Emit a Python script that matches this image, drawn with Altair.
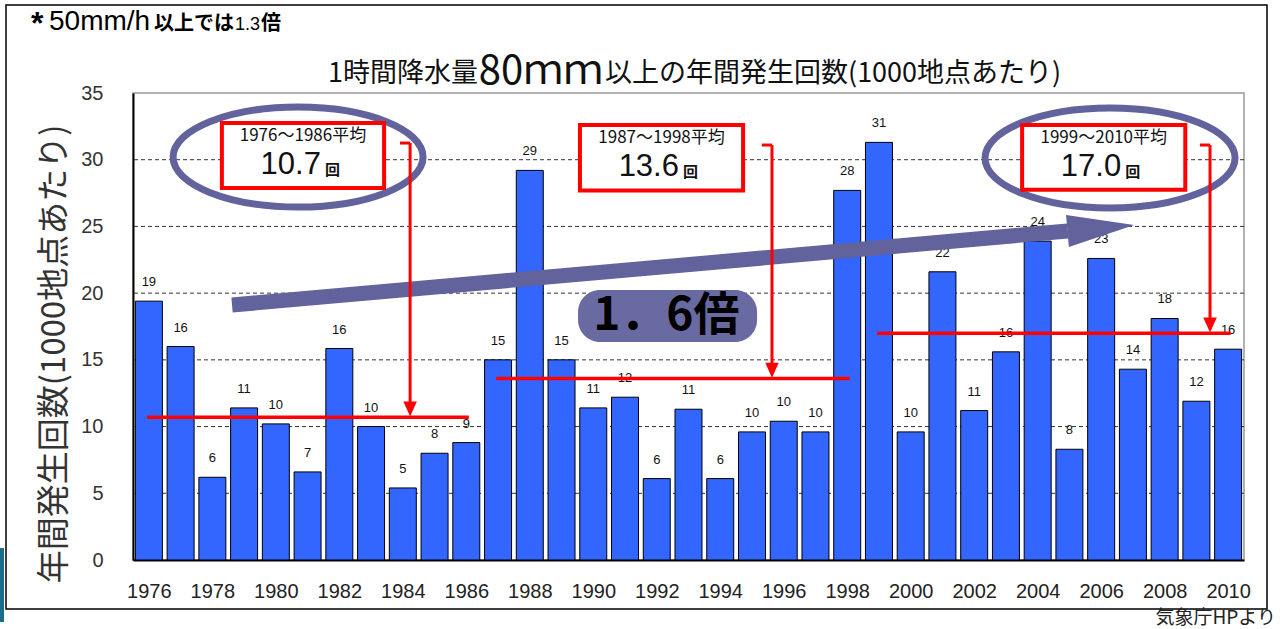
import altair as alt
import pandas as pd

# ---------------- data ----------------
years = list(range(1976, 2011))
counts = [19.4, 16.0, 6.2, 11.4, 10.2, 6.6, 15.85, 10.0, 5.4, 8.0, 8.8,
          15.0, 29.2, 15.0, 11.4, 12.2, 6.1, 11.3, 6.1, 9.6, 10.4, 9.6, 27.7,
          31.3, 9.6, 21.6, 11.2, 15.6, 23.9, 8.3, 22.6, 14.3, 18.1, 11.9, 15.8]
count_labels = ["19", "16", "6", "11", "10", "7", "16", "10", "5", "8", "9",
                "15", "29", "15", "11", "12", "6", "11", "6", "10", "10", "10", "28",
                "31", "10", "22", "11", "16", "24", "8", "23", "14", "18", "12", "16"]

period_names = ["1976～1986平均", "1987～1998平均", "1999～2010平均"]
period_means = [10.7, 13.6, 17.0]
period_mean_text = ["10.7", "13.6", "17.0"]
period_first = [1976, 1987, 1999]
period_last = [1986, 1998, 2010]

y_ticks = [0, 5, 10, 15, 20, 25, 30, 35]
grid_values = [5, 10, 15, 20, 25, 30]
x_ticks = list(range(1976, 2011, 2))

# ---------------- annotation layout (data coordinates) ----------------
box_left = [1978.30, 1989.58, 2003.51]
box_right = [1983.41, 1994.72, 2008.65]
box_top = [32.75, 32.6, 32.6]
box_bottom = [27.88, 27.7, 27.75]
drop_x = [1984.23, 1995.63, 2009.43]
drop_top = [31.25, 31.1, 31.1]
ellipse_x = [1980.70, 2006.28]
ellipse_y = [30.2, 30.13]

W, H = 1111, 467
xs = alt.Scale(domain=[1975.5, 2010.5], nice=False, zero=False)
ys = alt.Scale(domain=[0, 35], nice=False, zero=True)

RED = "#ff0000"
SLATE = "#62629c"
JP = "Noto Sans CJK JP"
LAT = "Liberation Sans"

x_axis = alt.Axis(values=x_ticks, format="d", ticks=False, grid=False,
                  domainColor="#000", domainWidth=2, labelFont=LAT,
                  labelFontSize=20, labelColor="#222", labelPadding=21,
                  labelFlush=False)
y_axis = alt.Axis(values=y_ticks, ticks=False, grid=False,
                  domainColor="#000", domainWidth=2, labelFont=LAT,
                  labelFontSize=20, labelColor="#333", labelPadding=30)


def X(field):
    return alt.X(field, scale=xs, axis=x_axis, title=None)


def Y(field):
    return alt.Y(field, scale=ys, axis=y_axis, title=None)


one = pd.DataFrame({"a": [0]})

bars_df = pd.DataFrame({"year": years, "count": counts, "label": count_labels})
per_df = pd.DataFrame({
    "name": period_names, "mean": period_means, "mtext": period_mean_text,
    "first": period_first, "last": period_last,
    "bl": box_left, "br": box_right, "bt": box_top, "bb": box_bottom,
    "dx": drop_x, "dt": drop_top,
})

frame = alt.Chart(one).mark_rect(fillOpacity=0, stroke="#000", strokeWidth=1.5).encode(
    x=alt.value(-127), x2=alt.value(1134), y=alt.value(-88), y2=alt.value(516))
teal = alt.Chart(one).mark_rect(color="#1b6e89").encode(
    x=alt.value(-133), x2=alt.value(-129), y=alt.value(455), y2=alt.value(529))

grid = alt.Chart(pd.DataFrame({"v": grid_values})).mark_rule(
    color="#333", strokeDash=[4, 3], strokeWidth=1).encode(y=Y("v:Q"))

bars = alt.Chart(bars_df).transform_calculate(
    x0="datum.year - 0.425", x1="datum.year + 0.425").mark_bar(
    color="#3366ff", stroke="#000", strokeWidth=1).encode(
    x=X("x0:Q"), x2="x1:Q", y=Y("count:Q"), y2=alt.datum(0))

labels = alt.Chart(bars_df).mark_text(
    dy=-19, fontSize=13, font=LAT, color="#111", baseline="middle").encode(
    x=X("year:Q"), y=Y("count:Q"), text="label:N")

ellipse_path = "M -1,0 A 1,0.4 0 1,1 1,0 A 1,0.4 0 1,1 -1,0 Z"
ellipses = alt.Chart(pd.DataFrame({"x": ellipse_x, "y": ellipse_y})).mark_point(
    shape=ellipse_path, size=62500, filled=False, color=SLATE, strokeWidth=7,
    opacity=1).encode(x=X("x:Q"), y=Y("y:Q"))

shaft = alt.Chart(pd.DataFrame({"x": [1978.62], "x2": [2004.95], "y": [19.11], "y2": [24.66]})).mark_rule(
    color=SLATE, strokeWidth=15, strokeCap="butt").encode(
    x=X("x:Q"), x2="x2:Q", y=Y("y:Q"), y2="y2:Q")
head = alt.Chart(pd.DataFrame({"x": [2005.99], "y": [24.88]})).mark_point(
    shape="M -1,-0.48 L 1,0 L -1,0.48 Z", size=4489, angle=355, filled=True,
    color=SLATE, opacity=1).encode(x=X("x:Q"), y=Y("y:Q"))

ratio_box = alt.Chart(pd.DataFrame({"x": [1989.52], "x2": [1995.16], "y": [20.24], "y2": [16.34]})).mark_rect(
    color="#6a6aa3", cornerRadius=22).encode(
    x=X("x:Q"), x2="x2:Q", y=Y("y:Q"), y2="y2:Q")
ratio_text = alt.Chart(pd.DataFrame({"x": [1992.3], "y": [18.3], "t": ["1．6倍"]})).mark_text(
    font=JP, fontSize=46, fontWeight="bold", color="#000", baseline="middle").encode(
    x=X("x:Q"), y=Y("y:Q"), text="t:N")

avg_lines = alt.Chart(per_df).transform_calculate(
    xa="datum.first - 0.06", xb="datum.last + 0.08").mark_rule(
    color=RED, strokeWidth=3.5).encode(x=X("xa:Q"), x2="xb:Q", y=Y("mean:Q"))

drops = alt.Chart(per_df).transform_calculate(yb="datum.mean + 1.1").mark_rule(
    color=RED, strokeWidth=3).encode(x=X("dx:Q"), y=Y("dt:Q"), y2="yb:Q")
hooks = alt.Chart(per_df).transform_calculate(hx="datum.dx - 0.32").mark_rule(
    color=RED, strokeWidth=3).encode(x=X("hx:Q"), x2="dx:Q", y=Y("dt:Q"))
drop_heads = alt.Chart(per_df).transform_calculate(hy="datum.mean + 0.62").mark_point(
    shape="M -0.9,-1 L 0.9,-1 L 0,1 Z", size=225, filled=True, color=RED, opacity=1).encode(
    x=X("dx:Q"), y=Y("hy:Q"))

boxes = alt.Chart(per_df).mark_rect(fill="#fff", stroke=RED, strokeWidth=4).encode(
    x=X("bl:Q"), x2="br:Q", y=Y("bt:Q"), y2="bb:Q")
box_names = alt.Chart(per_df).transform_calculate(
    cx="(datum.bl + datum.br) / 2", cy="datum.bt - 1.0").mark_text(
    font=JP, fontSize=17, color="#111", baseline="middle").encode(
    x=X("cx:Q"), y=Y("cy:Q"), text="name:N")
box_nums = alt.Chart(per_df).transform_calculate(
    nx="datum.bl + 3.12", ny="datum.bt - 3.15").mark_text(
    font=LAT, fontSize=31, color="#111", baseline="middle", align="right").encode(
    x=X("nx:Q"), y=Y("ny:Q"), text="mtext:N")
box_kai = alt.Chart(per_df).transform_calculate(
    kx="datum.bl + 3.25", ky="datum.bt - 3.5").mark_text(
    font=JP, fontSize=15, fontWeight="bold", color="#111", baseline="middle", align="left",
    text="回").encode(x=X("kx:Q"), y=Y("ky:Q"))


def txt(s, px, py, **kw):
    return alt.Chart(one).mark_text(text=s, **kw).encode(
        x=alt.value(px - 133), y=alt.value(py - 93))


note = [
    txt("*", 31, 34, font=LAT, fontSize=32, fontWeight="bold", color="#000",
        align="left", baseline="alphabetic"),
    txt("50mm/h", 49, 30, font=LAT, fontSize=28, color="#000",
        align="left", baseline="alphabetic"),
    txt("以上では", 154, 30, font=JP, fontSize=20, fontWeight="bold", color="#000",
        align="left", baseline="alphabetic"),
    txt("1.3", 235, 30, font=LAT, fontSize=18, color="#000",
        align="left", baseline="alphabetic"),
    txt("倍", 261, 30, font=JP, fontSize=20, fontWeight="bold", color="#000",
        align="left", baseline="alphabetic"),
]
titles = [
    txt("1時間降水量", 478, 82, font=JP, fontSize=27, color="#111", align="right",
        baseline="alphabetic"),
    txt("80ｍｍ", 541, 84, font=JP, fontSize=40, color="#111", align="center",
        baseline="alphabetic"),
    txt("以上の年間発生回数(1000地点あたり)", 605, 82, font=JP, fontSize=27,
        color="#111", align="left", baseline="alphabetic"),
]
y_title = txt("年間発生回数(1000地点あたり)", 55, 354, font=JP, fontSize=33,
              color="#333", align="center", baseline="middle", angle=270)
source = txt("気象庁HPより", 1276, 618, font=JP, fontSize=19, color="#222",
             align="right", baseline="middle")

chart = alt.layer(
    frame, teal, grid, bars, labels, ellipses, shaft, head, ratio_box, ratio_text,
    avg_lines, boxes, box_names, box_nums, box_kai, drops, hooks, drop_heads,
    *note, *titles, y_title, source,
).properties(
    width=W, height=H,
    autosize=alt.AutoSizeParams(type="none"),
    padding={"left": 133, "top": 93, "right": 36, "bottom": 69},
    background="#ffffff",
).configure_view(stroke="#999999", strokeWidth=1.5)

chart.save("out.html", embed_options={"renderer": "svg", "actions": False})
